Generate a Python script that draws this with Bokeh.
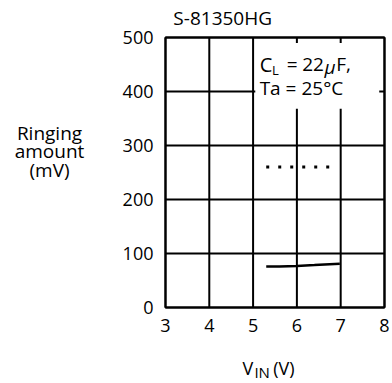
from bokeh.plotting import figure
from bokeh.models import Range1d
from bokeh.core.properties import value
from bokeh.embed import file_html
from bokeh.resources import INLINE

# data
vin_solid = [5.3, 5.6, 6.0, 6.4, 6.98]
ring_solid = [76, 76, 77, 78.5, 81]
vin_dotted = [5.3, 6.75]
ring_dotted = [260, 260]
x_ticks = [3, 4, 5, 6, 7, 8]
y_ticks = [0, 100, 200, 300, 400, 500]
x_tick_labels = ["3", "4", "5", "6", "7", "8"]
y_tick_labels = ["0", "100", "200", "300", "400", "500"]
XMIN, XMAX, YMIN, YMAX = 3, 8, 0, 500

FONT = value("Open Sans")
FS = "18px"

p = figure(width=392, height=383, output_backend="svg", toolbar_location=None,
           x_range=Range1d(-0.767, 8.183), y_range=Range1d(-140.7, 568.5),
           min_border=0)
p.axis.visible = False
p.grid.visible = False
p.outline_line_color = None
p.background_fill_color = "white"
p.border_fill_color = "white"

# grid
p.segment(x0=x_ticks, y0=[YMIN] * len(x_ticks), x1=x_ticks, y1=[YMAX] * len(x_ticks),
          line_color="black", line_width=2)
p.segment(x0=[XMIN] * len(y_ticks), y0=y_ticks, x1=[XMAX] * len(y_ticks), y1=y_ticks,
          line_color="black", line_width=2)

# white box behind annotation
p.quad(left=[5.05], right=[7.88], bottom=[368], top=[490], fill_color="white", line_color=None)

# frame
p.quad(left=[XMIN], right=[XMAX], bottom=[YMIN], top=[YMAX], fill_color=None,
       line_color="black", line_width=2)

# data
p.line(vin_solid, ring_solid, line_color="black", line_width=2.5)
p.line(vin_dotted, ring_dotted, line_color="black", line_width=3, line_dash="3 9")

# tick labels
p.text(x=x_ticks, y=[YMIN] * len(x_ticks), text=x_tick_labels, text_font=FONT,
       text_font_size=FS, text_align="center", text_baseline="middle", y_offset=18,
       text_color="black")
p.text(x=[XMIN] * len(y_ticks), y=y_ticks, text=y_tick_labels, text_font=FONT,
       text_font_size=FS, text_align="right", text_baseline="middle", x_offset=-12,
       text_color="black")


def lab(x, y, t, size=FS, align="left", style="normal"):
    p.text(x=[x], y=[y], text=[t], text_font=FONT, text_font_size=size,
           text_align=align, text_baseline="middle", text_color="black",
           text_font_style=style)


# annotation
lab(5.15, 450, "C", size="20px")
lab(5.43, 440, "L", size="13px")
lab(5.77, 450, "=", size="19px")
lab(6.12, 450, "22", size="19px")
lab(6.63, 446, "\u03bc", size="19px", style="italic")
lab(6.90, 450, "F,", size="19px")
lab(5.15, 407, "Ta = 25\u00b0C", size="19px")

# title
lab(3.18, 537, "S-81350HG", size="19px")

# y label
lab(0.352, 324, "Ringing", size="19px", align="center")
lab(0.352, 289, "amount", size="19px", align="center")
lab(0.352, 254, "(mV)", size="19px", align="center")

# x label
lab(4.76, -112, "V")
lab(5.03, -120, "IN", size="15px")
lab(5.46, -112, "(V)")

open("out.html", "w").write(file_html(p, INLINE))
